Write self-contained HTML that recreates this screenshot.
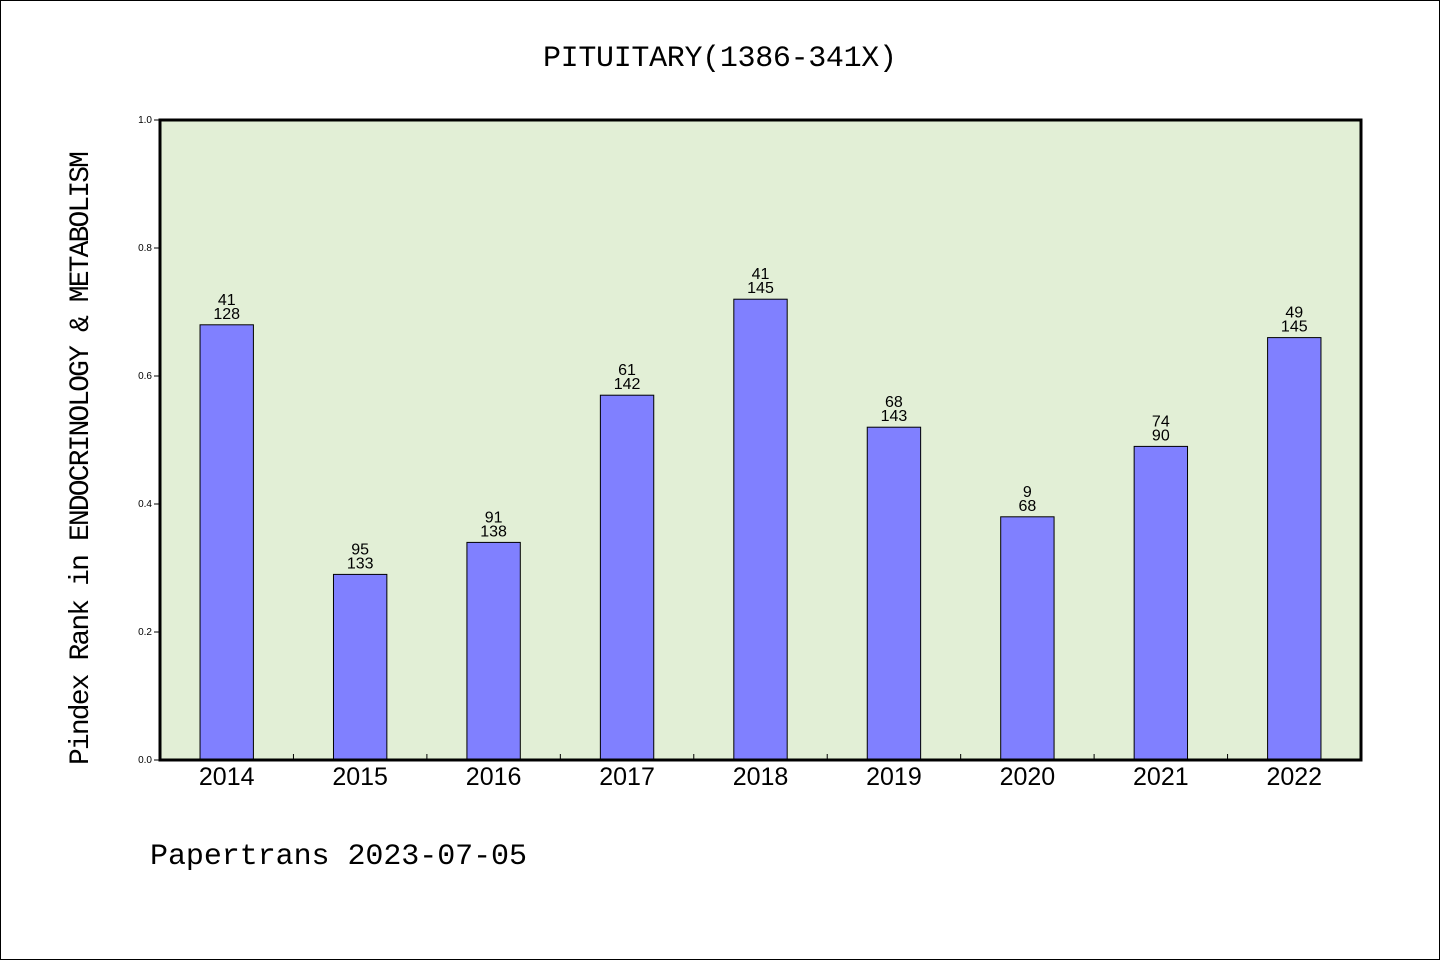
<!DOCTYPE html>
<html><head><meta charset="utf-8"><style>
html,body{margin:0;padding:0;background:#fff}
svg{display:block}
</style></head><body>
<svg id="chart" width="1440" height="960" xmlns="http://www.w3.org/2000/svg">
<rect x="0.5" y="0.5" width="1439" height="959" fill="#fff" stroke="#000"/>
<text x="720" y="66" text-anchor="middle" font-family="'Liberation Mono','WenQuanYi Zen Hei',monospace" font-size="30" textLength="354">PITUITARY(1386-341X)</text>
<rect x="160" y="120" width="1201" height="640" fill="#e2efd6"/>
<g id="bars"></g>
<rect x="160" y="120" width="1201" height="640" fill="none" stroke="#000" stroke-width="3"/>
<text transform="translate(88,458) rotate(-90)" text-anchor="middle" font-family="'Liberation Mono','WenQuanYi Zen Hei',monospace" font-size="28" textLength="614">Pindex Rank in ENDOCRINOLOGY &amp; METABOLISM</text>
<text x="150" y="864" font-family="'Liberation Mono','WenQuanYi Zen Hei',monospace" font-size="30" textLength="377">Papertrans 2023-07-05</text>
</svg>
<script>
const categories=['2014','2015','2016','2017','2018','2019','2020','2021','2022'];
const values=[0.68,0.29,0.34,0.57,0.72,0.52,0.38,0.49,0.66];
const topLabels=['41','95','91','61','41','68','9','74','49'];
const bottomLabels=['128','133','138','142','145','143','68','90','145'];
const yTicks=[0,0.2,0.4,0.6,0.8,1.0];
const NS='http://www.w3.org/2000/svg';
const svg=document.getElementById('chart'),g=document.getElementById('bars');
const X0=160,W=1201,Y0=760,H=640;
const band=W/categories.length;
const xc=i=>X0+band*(i+0.5);
const y=v=>Y0-v/1.0*H;
function mk(tag,attrs,parent){const e=document.createElementNS(NS,tag);for(const k in attrs)e.setAttribute(k,attrs[k]);(parent||svg).appendChild(e);return e;}
categories.forEach((c,i)=>{
  const bw=band*0.4;
  const r=mk('rect',{x:xc(i)-bw/2,y:y(values[i]),width:bw,height:Y0-y(values[i]),fill:'#8080ff',stroke:'#000','stroke-width':1},g);
  
  
  const t1=mk('text',{x:xc(i),y:y(values[i])-20,'text-anchor':'middle','font-family':"'Liberation Sans',sans-serif",'font-size':16},svg);
  t1.textContent=topLabels[i];
  
  
  const t2=mk('text',{x:xc(i),y:y(values[i])-6,'text-anchor':'middle','font-family':"'Liberation Sans',sans-serif",'font-size':16},svg);
  t2.textContent=bottomLabels[i];
  
  
  const xl=mk('text',{x:xc(i),y:785,'text-anchor':'middle','font-family':"'Liberation Sans',sans-serif",'font-size':25},svg);
  xl.textContent=c;
  
  
  if(i>0){const tk=mk('line',{x1:X0+band*i,x2:X0+band*i,y1:Y0,y2:Y0-6,stroke:'#000'},svg);
  
  }
});
yTicks.forEach(v=>{
  const tk=mk('line',{x1:X0-6,x2:X0,y1:y(v),y2:y(v),stroke:'#000'},svg);
  
  
  const tl=mk('text',{x:X0-8,y:y(v)+3,'text-anchor':'end','font-family':"'Liberation Sans',sans-serif",'font-size':10},svg);
  tl.textContent=v.toFixed(1);
  
  
});
</script>
</body></html>
